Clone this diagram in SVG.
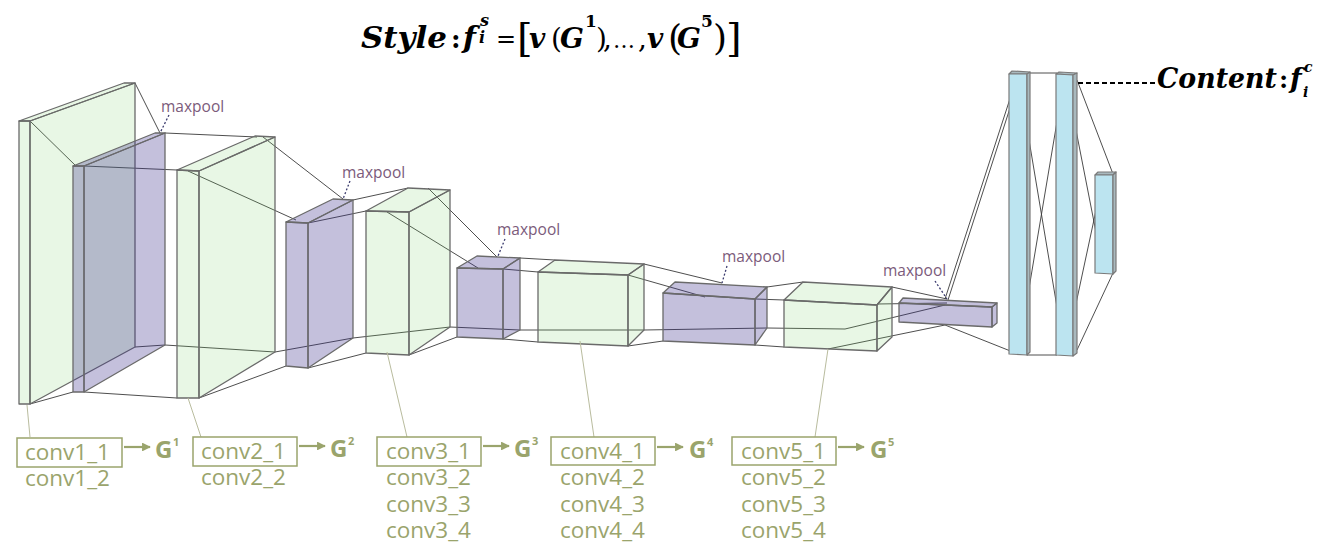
<svg xmlns="http://www.w3.org/2000/svg" width="1317" height="545" viewBox="0 0 1317 545">
<defs>
<style>
.g polygon{fill:#78d264;fill-opacity:0.17;stroke:#6a6a6a;stroke-width:1.3;stroke-linejoin:round}
.p polygon{fill:#3a2d8a;fill-opacity:0.3;stroke:#6a6a6a;stroke-width:1.3;stroke-linejoin:round}
.b polygon{fill:#bce4f0;stroke:#7a7a7a;stroke-width:1.2;stroke-linejoin:round}
.b polygon.s{fill:#a9b9be}
.conn path{fill:none;stroke:#3a3a3a;stroke-width:0.9}
.ptr{fill:none;stroke:#3b3b6e;stroke-width:1.3;stroke-dasharray:2 2}
.mp{font-family:"Open Sans",sans-serif;font-size:15.5px;fill:#7b5b7b}
.lbl{font-family:"Open Sans",sans-serif;font-size:22.5px;fill:#9aa46c}
.gg{font-family:"Open Sans",sans-serif;font-size:24px;font-weight:bold;fill:#9aa46c}
.sup{font-family:"Open Sans",sans-serif;font-size:11px;font-weight:bold;fill:#9aa46c}
.lbox{fill:none;stroke:#9aa46c;stroke-width:1.5}
.arr{stroke:#9aa46c;stroke-width:2.2;fill:none}
.lead{stroke:#b9bc9e;stroke-width:1;fill:none}
.math{font-family:"DejaVu Serif",serif;fill:#000}
.bi{font-style:italic;font-weight:bold}
</style>
<marker id="ah" viewBox="0 0 10 10" refX="9" refY="5" markerWidth="4" markerHeight="4" orient="auto" markerUnits="strokeWidth">
<path d="M0,0 L10,5 L0,10 z" fill="#9aa46c"/>
</marker>
</defs>

<g id="connectors" class="conn">
<path d="M30,121 L76,166 M135,83 L160,133 M30,404 L73,392 M135,347 L165,345"/>
<path d="M165,133 L257,137 M84,166 L177,170 M84,392 L177,398 M165,345 L275,352"/>
<path d="M263,137 L343,199 M188,171 L296,220 M199,398 L286,366 M275,352 L353,338"/>
<path d="M353,200 L408,188 M308,223 L366,211 M308,368 L366,353 M353,338 L450,327"/>
<path d="M428,188 L497,257 M387,212 L478,268 M409,355 L457,337 M450,327 L520,330"/>
<path d="M520,258 L555,260 M503,269 L538,272 M503,339 L538,342 M520,330 L644,330"/>
<path d="M644,264 L722,283 M628,275 L705,297 M628,346 L663,341 M644,330 L767,328"/>
<path d="M767,287 L803,282 M755,299 L784,300 M755,345 L784,347 M767,328 L845,329 L945,305"/>
<path d="M892,287 L947,299 M877,304 L947,303 M828,349 L945,325"/>
<path d="M945,299 L1018,74 M948,300 L1021,74 M945,325 L1018,354"/>
<path d="M1018,74 L1065,355 M1018,354 L1065,74 M1027,73 L1057,73 M1027,355 L1057,355"/>
<path d="M1065,74 L1104,273 M1065,355 L1104,173 M1077,80 L1113,174 M1077,350 L1113,273"/>
<path d="M1078,83 L1155,83" style="stroke:#000;stroke-width:2.2;stroke-dasharray:5 3"/>
</g>

<g id="conv1" class="g">
<polygon points="19,121 124,83 135,83 30,121"/>
<polygon points="19,121 30,121 30,404 19,404"/>
<polygon points="30,121 135,83 135,347 30,404"/>
</g>
<g id="pool1" class="p">
<polygon points="73,166 155,133 165,133 84,166"/>
<polygon points="73,166 84,166 84,392 73,392"/>
<polygon points="84,166 165,133 165,345 84,392"/>
</g>
<g id="conv2" class="g">
<polygon points="177,170 255,136 275,137 199,171"/>
<polygon points="177,170 199,171 199,398 177,398"/>
<polygon points="199,171 275,137 275,352 199,398"/>
</g>
<g id="pool2" class="p">
<polygon points="286,222 333,199 353,200 308,223"/>
<polygon points="286,222 308,223 308,368 286,366"/>
<polygon points="308,223 353,200 353,338 308,368"/>
</g>
<g id="conv3" class="g">
<polygon points="366,211 408,188 450,190 409,212"/>
<polygon points="366,211 409,212 409,355 366,353"/>
<polygon points="409,212 450,190 450,327 409,355"/>
</g>
<g id="pool3" class="p">
<polygon points="457,268 477,256 520,258 503,269"/>
<polygon points="457,268 503,269 503,339 457,337"/>
<polygon points="503,269 520,258 520,330 503,339"/>
</g>
<g id="conv4" class="g">
<polygon points="538,272 555,260 644,264 628,275"/>
<polygon points="538,272 628,275 628,346 538,342"/>
<polygon points="628,275 644,264 644,330 628,346"/>
</g>
<g id="pool4" class="p">
<polygon points="663,293 675,282 767,287 755,299"/>
<polygon points="663,293 755,299 755,345 663,341"/>
<polygon points="755,299 767,287 767,328 755,345"/>
</g>
<g id="conv5" class="g">
<polygon points="784,300 803,282 892,287 877,305"/>
<polygon points="784,300 877,305 877,351 784,347"/>
<polygon points="877,305 892,287 892,337 877,351"/>
</g>
<g id="pool5" class="p">
<polygon points="899,303 903,298 997,303 992,307"/>
<polygon points="899,303 992,307 992,327 899,322"/>
<polygon points="992,307 997,303 997,323 992,327"/>
</g>
<g id="fc1" class="b">
<polygon class="s" points="1009,74 1012,71 1030,72 1027,74"/>
<polygon points="1009,74 1027,74 1027,355 1009,354"/>
<polygon class="s" points="1027,74 1030,72 1030,352 1027,355"/>
</g>
<g id="fc2" class="b">
<polygon class="s" points="1056,74 1059,72 1077,73 1073,75"/>
<polygon points="1056,74 1073,75 1073,356 1056,355"/>
<polygon class="s" points="1073,75 1077,73 1077,353 1073,356"/>
</g>
<g id="fc3" class="b">
<polygon class="s" points="1095,175 1098,172 1116,172 1113,175"/>
<polygon points="1095,175 1113,175 1113,274 1095,273"/>
<polygon class="s" points="1113,175 1116,172 1116,271 1113,274"/>
</g>

<g id="maxpool-labels">
<text class="mp" x="161" y="112">maxpool</text><path class="ptr" d="M169,115 L160,133"/>
<text class="mp" x="342" y="178">maxpool</text><path class="ptr" d="M350,181 L343,199"/>
<text class="mp" x="497" y="235">maxpool</text><path class="ptr" d="M505,239 L498,256"/>
<text class="mp" x="722" y="262">maxpool</text><path class="ptr" d="M727,266 L722,283"/>
<text class="mp" x="883" y="276">maxpool</text><path class="ptr" d="M935,281 L947,299"/>
</g>

<g id="style-formula">
<text class="math"><tspan class="bi" x="361" y="48" font-size="30" textLength="86" lengthAdjust="spacingAndGlyphs">Style</tspan><tspan x="451" y="48" font-size="26" font-weight="bold">:</tspan><tspan class="bi" x="463" y="48" font-size="30">f</tspan><tspan class="bi" x="480" y="26" font-size="16">s</tspan><tspan class="bi" x="479" y="43" font-size="16">i</tspan><tspan x="496" y="47" font-size="24">=</tspan><tspan x="517" y="51" font-size="40">[</tspan><tspan class="bi" x="529" y="48" font-size="28">v</tspan><tspan x="551" y="48" font-size="28">(</tspan><tspan class="bi" x="560" y="48" font-size="28">G</tspan><tspan x="585" y="27" font-size="17" font-weight="bold">1</tspan><tspan x="596" y="48" font-size="28">)</tspan><tspan x="603" y="48" font-size="28">,</tspan><tspan x="613" y="48" font-size="22">…</tspan><tspan x="638" y="48" font-size="28">,</tspan><tspan class="bi" x="647" y="48" font-size="28">v</tspan><tspan x="668" y="50" font-size="36">(</tspan><tspan class="bi" x="677" y="48" font-size="28">G</tspan><tspan x="701" y="27" font-size="17" font-weight="bold">5</tspan><tspan x="713" y="50" font-size="36">)</tspan><tspan x="726" y="51" font-size="40">]</tspan></text>
</g>

<g id="content-label">
<text class="math"><tspan class="bi" x="1157" y="88" font-size="27" textLength="120" lengthAdjust="spacingAndGlyphs">Content</tspan><tspan x="1279" y="88" font-size="25" font-weight="bold">:</tspan><tspan class="bi" x="1290" y="88" font-size="27">f</tspan><tspan class="bi" x="1304" y="72" font-size="14">c</tspan><tspan class="bi" x="1303" y="97" font-size="14">i</tspan></text>
</g>

<g id="labels-1">
<path class="lead" d="M27,405 L30,437"/>
<rect class="lbox" x="17" y="438" width="105" height="29"/>
<text class="lbl" x="25" y="460">conv1_1</text>
<text class="lbl" x="25" y="486">conv1_2</text>
<path class="arr" d="M124,447 L150,447" marker-end="url(#ah)"/>
<text class="gg" x="155" y="458">G</text><text class="sup" x="173" y="446">1</text>
</g>
<g id="labels-2">
<path class="lead" d="M188,398 L201,437"/>
<rect class="lbox" x="193" y="437" width="104" height="29"/>
<text class="lbl" x="201" y="459">conv2_1</text>
<text class="lbl" x="201" y="485">conv2_2</text>
<path class="arr" d="M299,446 L325,446" marker-end="url(#ah)"/>
<text class="gg" x="330" y="457">G</text><text class="sup" x="348" y="445">2</text>
</g>
<g id="labels-3">
<path class="lead" d="M387,352 L407,437"/>
<rect class="lbox" x="377" y="437" width="104" height="29"/>
<text class="lbl" x="386" y="459">conv3_1</text>
<text class="lbl" x="386" y="485">conv3_2</text>
<text class="lbl" x="386" y="512">conv3_3</text>
<text class="lbl" x="386" y="538">conv3_4</text>
<path class="arr" d="M483,446 L509,446" marker-end="url(#ah)"/>
<text class="gg" x="514" y="457">G</text><text class="sup" x="532" y="445">3</text>
</g>
<g id="labels-4">
<path class="lead" d="M580,341 L594,437"/>
<rect class="lbox" x="551" y="437" width="104" height="28"/>
<text class="lbl" x="560" y="459">conv4_1</text>
<text class="lbl" x="560" y="485">conv4_2</text>
<text class="lbl" x="560" y="512">conv4_3</text>
<text class="lbl" x="560" y="538">conv4_4</text>
<path class="arr" d="M657,447 L683,447" marker-end="url(#ah)"/>
<text class="gg" x="689" y="458">G</text><text class="sup" x="707" y="446">4</text>
</g>
<g id="labels-5">
<path class="lead" d="M828,349 L815,437"/>
<rect class="lbox" x="732" y="437" width="104" height="28"/>
<text class="lbl" x="741" y="459">conv5_1</text>
<text class="lbl" x="741" y="485">conv5_2</text>
<text class="lbl" x="741" y="512">conv5_3</text>
<text class="lbl" x="741" y="538">conv5_4</text>
<path class="arr" d="M838,447 L864,447" marker-end="url(#ah)"/>
<text class="gg" x="870" y="458">G</text><text class="sup" x="888" y="446">5</text>
</g>
</svg>
